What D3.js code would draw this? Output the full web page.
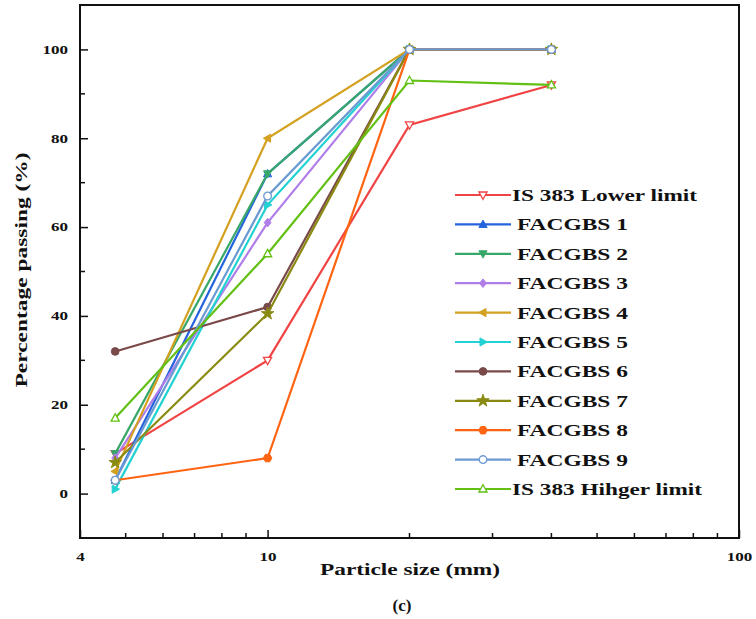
<!DOCTYPE html>
<html>
<head>
<meta charset="utf-8">
<script src="https://cdn.jsdelivr.net/npm/d3@7/dist/d3.min.js"></script>
<style>
  html, body { margin: 0; padding: 0; background: #fff; }
  text { font-family: "Liberation Serif", "Times New Roman", Times, serif; font-weight: bold; fill: #111; }
</style>
</head>
<body>
<svg id="chart" width="756" height="619"></svg>
<script>
// ---- data ----
const sizes = [4.75, 10, 20, 40];
const seriesNames = ["IS 383 Lower limit", " FACGBS 1", " FACGBS 2", " FACGBS 3", " FACGBS 4",
  " FACGBS 5", " FACGBS 6", " FACGBS 7", " FACGBS 8", " FACGBS 9", "IS 383 Hihger limit"];
const lowerLimit = [9, 30, 83, 92];
const facgbs1 = [3, 72, 100, 100];
const facgbs2 = [9, 72, 100, 100];
const facgbs3 = [8, 61, 100, 100];
const facgbs4 = [5, 80, 100, 100];
const facgbs5 = [1, 65, 100, 100];
const facgbs6 = [32, 42, 100, 100];
const facgbs7 = [7, 40.5, 100, 100];
const facgbs8 = [3, 8, 100, 100];
const facgbs9 = [3, 67, 100, 100];
const higherLimit = [17, 54, 93, 92];
const yTicks = [0, 20, 40, 60, 80, 100];
const xTickLabels = [4, 10, 100];

const seriesValues = [lowerLimit, facgbs1, facgbs2, facgbs3, facgbs4, facgbs5,
  facgbs6, facgbs7, facgbs8, facgbs9, higherLimit];
const colors = ["#f04444", "#2563de", "#38a86a", "#b07ee8", "#d4a020", "#22d2d2",
  "#7a4a4a", "#8a8a12", "#ff6412", "#6a9ad2", "#62c014"];
const markers = ["tridown-open", "triup", "tridown", "diamond", "trileft", "triright",
  "circle", "star", "hexagon", "circle-open", "triup-open"];

// ---- layout ----
const svg = d3.select("#chart");
const L = 80, R = 739, T = 5, B = 538;
const x = d3.scaleLog().domain([4, 100]).range([L, R]);
const y = d3.scaleLinear().domain([-10, 110]).range([B, T]);

// frame
svg.append("rect").attr("x", L).attr("y", T).attr("width", R - L).attr("height", B - T)
  .attr("fill", "none").attr("stroke", "#111").attr("stroke-width", 2);

// x ticks (inward)
const xMinor = [5,6,7,8,9,20,30,40,50,60,70,80,90];
const xAxis = d3.axisBottom(x).tickValues(xTickLabels).tickFormat(d3.format("d")).tickSizeInner(-8).tickSizeOuter(0).tickPadding(14);
const gx = svg.append("g").attr("transform", `translate(0,${B})`).call(xAxis);
gx.select(".domain").remove();
gx.selectAll(".tick line").attr("stroke", "#111").attr("stroke-width", 1.5);
gx.selectAll(".tick text").style("font-size", "12px").attr("textLength", d => String(d).length * 8.5).attr("lengthAdjust", "spacingAndGlyphs");
svg.append("g").selectAll("line").data(xMinor).join("line")
  .attr("x1", d => x(d)).attr("x2", d => x(d)).attr("y1", B).attr("y2", B - 5)
  .attr("stroke", "#111").attr("stroke-width", 1.5);

// y ticks (inward)
const yAxis = d3.axisLeft(y).tickValues(yTicks).tickSizeInner(-8).tickSizeOuter(0).tickPadding(12);
const gy = svg.append("g").attr("transform", `translate(${L},0)`).call(yAxis);
gy.select(".domain").remove();
gy.selectAll(".tick line").attr("stroke", "#111").attr("stroke-width", 1.5);
gy.selectAll(".tick text").style("font-size", "12px").attr("textLength", d => String(d).length * 8.5).attr("lengthAdjust", "spacingAndGlyphs");
svg.append("g").selectAll("line").data([-10, 10, 30, 50, 70, 90]).join("line")
  .attr("x1", L).attr("x2", L + 5).attr("y1", d => y(d)).attr("y2", d => y(d))
  .attr("stroke", "#111").attr("stroke-width", 1.5);

// axis titles
svg.append("text").attr("x", 410).attr("y", 575).attr("text-anchor", "middle")
  .style("font-size", "17px").attr("textLength", 180).attr("lengthAdjust", "spacingAndGlyphs")
  .text("Particle size (mm)");
svg.append("text").attr("x", 402).attr("y", 611).attr("text-anchor", "middle")
  .style("font-size", "17px").text("(c)");
svg.append("text").attr("transform", "translate(27,270) rotate(-90)").attr("text-anchor", "middle")
  .style("font-size", "16px").attr("textLength", 235).attr("lengthAdjust", "spacingAndGlyphs")
  .text("Percentage passing (%)");

// marker paths
function markerPath(type, s) {
  const h = s;
  switch (type.replace("-open", "")) {
    case "triup": return `M0,${-h}L${h*0.95},${h*0.7}L${-h*0.95},${h*0.7}Z`;
    case "tridown": return `M0,${h}L${h*0.95},${-h*0.7}L${-h*0.95},${-h*0.7}Z`;
    case "trileft": return `M${-h},0L${h*0.7},${-h*0.95}L${h*0.7},${h*0.95}Z`;
    case "triright": return `M${h},0L${-h*0.7},${-h*0.95}L${-h*0.7},${h*0.95}Z`;
    case "diamond": return `M0,${-h}L${h*0.8},0L0,${h}L${-h*0.8},0Z`;
    case "circle": return d3.symbol(d3.symbolCircle, Math.PI * h * h * 0.8)();
    case "star": return d3.symbol(d3.symbolStar, h * h * 2.6)();
    case "hexagon": {
      const pts = d3.range(6).map(i => { const a = Math.PI / 3 * i; return [h * Math.cos(a), h * Math.sin(a)]; });
      return "M" + pts.map(p => p.join(",")).join("L") + "Z";
    }
  }
}

const line = d3.line().x(d => x(d[0])).y(d => y(d[1]));
seriesValues.forEach((vals, i) => {
  const pts = sizes.map((s, j) => [s, vals[j]]);
  const g = svg.append("g");
  g.append("path").attr("d", line(pts)).attr("fill", "none")
    .attr("stroke", colors[i]).attr("stroke-width", 2.2);
  const open = markers[i].endsWith("-open");
  g.selectAll("path.m").data(pts).join("path").attr("class", "m")
    .attr("transform", d => `translate(${x(d[0])},${y(d[1])})`)
    .attr("d", markerPath(markers[i], 4.3))
    .attr("fill", open ? "#fff" : colors[i])
    .attr("stroke", colors[i]).attr("stroke-width", open ? 1.3 : 1);
});

// legend
const lgX0 = 455, lgX1 = 511, lgY0 = 195, lgDY = 29.4;
seriesNames.forEach((name, i) => {
  const cy = lgY0 + i * lgDY;
  const g = svg.append("g");
  g.append("line").attr("x1", lgX0).attr("x2", lgX1).attr("y1", cy).attr("y2", cy)
    .attr("stroke", colors[i]).attr("stroke-width", 2.2);
  const open = markers[i].endsWith("-open");
  g.append("path").attr("transform", `translate(${(lgX0 + lgX1) / 2},${cy})`)
    .attr("d", markerPath(markers[i], 4.3))
    .attr("fill", open ? "#fff" : colors[i])
    .attr("stroke", colors[i]).attr("stroke-width", open ? 1.3 : 1);
  const isLimit = !name.startsWith(" ");
  const w = name.startsWith("IS 383 L") ? 185 : (name.startsWith("IS 383 H") ? 190 : 111);
  g.append("text").attr("x", isLimit ? 512 : 517).attr("y", cy + 6)
    .style("font-size", "17px").attr("textLength", w).attr("lengthAdjust", "spacingAndGlyphs")
    .text(name.trim());
});
</script>
</body>
</html>
